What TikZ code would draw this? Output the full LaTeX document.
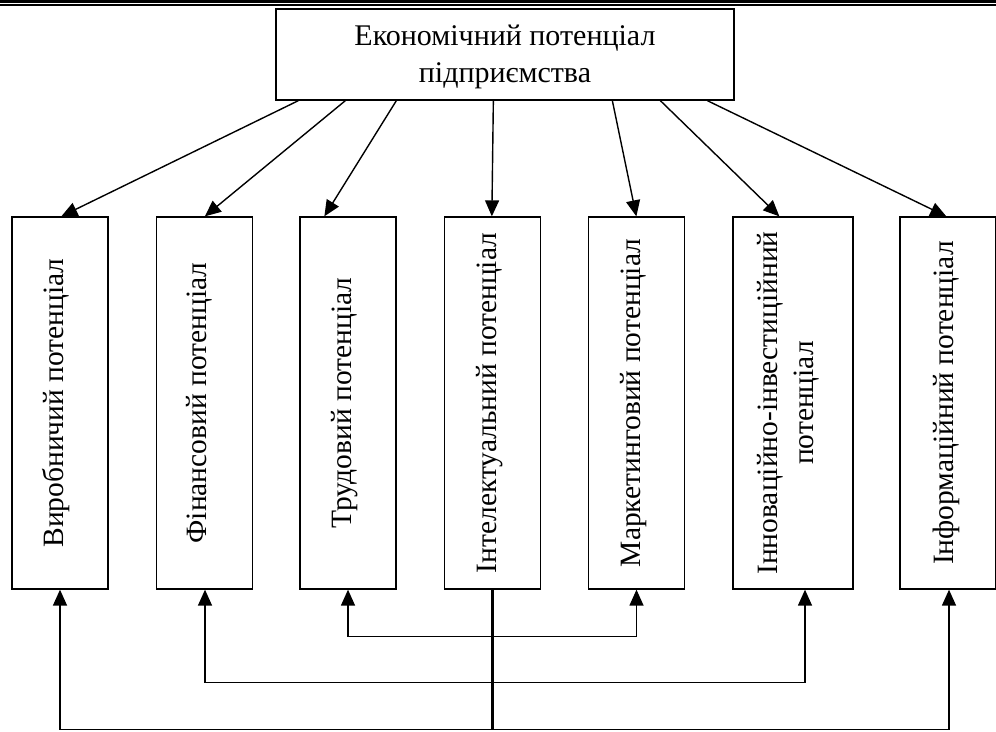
\documentclass[tikz,border=0pt]{standalone}
\usepackage{fontspec}
\setmainfont{Liberation Serif}
\usetikzlibrary{arrows.meta}
\begin{document}
\begin{tikzpicture}[x=1pt,y=-1pt,
  box/.style={draw,line width=1.3pt,inner sep=0pt},
  vbox/.style={box,minimum width=96pt,minimum height=372pt},
  lbl/.style={rotate=90,font=\fontsize{29.5}{36}\selectfont,inner sep=0pt,align=center},
  arr/.style={line width=1.4pt,-{Triangle[length=16pt,width=14pt]}},
  darr/.style={line width=1.4pt,{Triangle[length=16pt,width=14pt]}-{Triangle[length=16pt,width=14pt]}},
  trunk/.style={line width=3.6pt}]
\useasboundingbox (0,0) rectangle (996,731);
% header rule
\coordinate (hl) at (0,1.65);
\coordinate (hr) at (996,1.65);
\coordinate (gl) at (0,4.9);
\coordinate (gr) at (996,4.9);
\draw[line width=3.3pt] (hl) -- (hr);
\draw[line width=1.5pt] (gl) -- (gr);
% top box
\node[box,minimum width=458pt,minimum height=91pt] (top) at (505,54.5) {};
\node[align=center,inner sep=0pt,font=\fontsize{30}{37}\selectfont] (toptext)
      at ([yshift=-2.5pt]top.center) {Економічний потенціал\\підприємства};
% boxes
\node[vbox] (b1) at (60,403) {};
\node[vbox] (b2) at (204.5,403) {};
\node[vbox] (b3) at (348,403) {};
\node[vbox] (b4) at (492.5,403) {};
\node[vbox] (b5) at (636.5,403) {};
\node[vbox,minimum width=120pt] (b6) at (793,403) {};
\node[vbox] (b7) at (948,403) {};
% labels
\node[lbl,anchor=base] (t1) at ([xshift=3pt]b1.center) {Виробничий потенціал};
\node[lbl,anchor=base] (t2) at ([xshift=2pt]b2.center) {Фінансовий потенціал};
\node[lbl,anchor=base] (t3) at ([xshift=3pt]b3.center) {Трудовий потенціал};
\node[lbl,anchor=base] (t4) at ([xshift=4pt]b4.center) {Інтелектуальний потенціал};
\node[lbl,anchor=base] (t5) at ([xshift=3.5pt]b5.center) {Маркетинговий потенціал};
\node[lbl] (t6) at ([xshift=-5pt]b6.center) {Інноваційно-інвестиційний\\потенціал};
\node[lbl,anchor=base] (t7) at ([xshift=5pt]b7.center) {Інформаційний потенціал};
% top arrows
\draw[arr] ([xshift=23pt]top.south west) -- ([xshift=50pt]b1.north west);
\draw[arr] ([xshift=70pt]top.south west) -- ([xshift=49pt]b2.north west);
\draw[arr] ([xshift=121pt]top.south west) -- ([xshift=25pt]b3.north west);
\draw[arr] ([xshift=218pt]top.south west) -- ([xshift=48pt]b4.north west);
\draw[arr] ([xshift=337pt]top.south west) -- ([xshift=48.5pt]b5.north west);
\draw[arr] ([xshift=385pt]top.south west) -- ([xshift=47pt]b6.north west);
\draw[arr] ([xshift=432pt]top.south west) -- ([xshift=47pt]b7.north west);
% bottom links
\coordinate (base) at (492.5,729);
\draw[darr] (b3.south) -- ++(0,47) -| (b5.south);
\draw[darr] ([xshift=0.5pt]b2.south) -- ++(0,93) -| ([xshift=12pt]b6.south);
\draw[darr] (b1.south) -- ++(0,140) -| ([xshift=1pt]b7.south);
\draw[trunk] (b4.south) -- (base);
\end{tikzpicture}
\end{document}
